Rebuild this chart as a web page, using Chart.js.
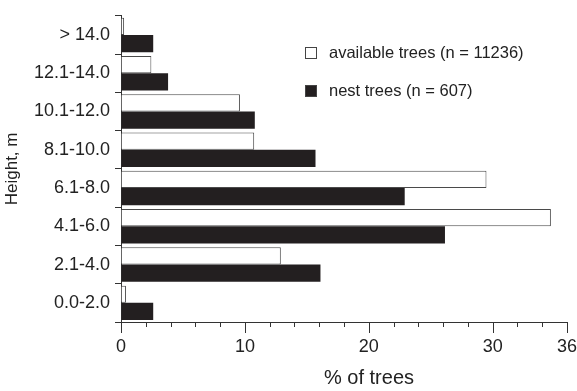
<!DOCTYPE html>
<html>
<head>
<meta charset="utf-8">
<script src="https://cdn.jsdelivr.net/npm/chart.js@4"></script>
<style>
  html, body { margin:0; padding:0; background:#fff; }
  #wrap { width:577px; height:391px; position:relative; }
</style>
</head>
<body>
<div id="wrap"><canvas id="heightChart"></canvas></div>
<script>
/* ── Tree height classes, top to bottom as drawn ── */
const heightClasses  = ["> 14.0", "12.1-14.0", "10.1-12.0", "8.1-10.0", "6.1-8.0", "4.1-6.0", "2.1-4.0", "0.0-2.0"];
const availableTrees = [0.25, 2.45, 9.6, 10.75, 29.5, 34.7, 12.9, 0.4];
const nestTrees      = [2.6, 3.8, 10.8, 15.7, 22.9, 26.15, 16.1, 2.6];
const xMajorTicks    = [0, 10, 20, 30, 36];

const axisColor = "#333";
const fontFam   = "'Liberation Sans', Arial, sans-serif";

// tick marks on the x axis: long at labelled values, short in between
const xTickMarks = {
  id: "xTickMarks",
  afterDraw(chart) {
    const sc = chart.scales.x, ctx = chart.ctx;
    ctx.save();
    ctx.strokeStyle = axisColor;
    ctx.lineWidth = 1;
    sc.ticks.forEach(t => {
      const px = Math.round(sc.getPixelForValue(t.value)) + 0.5;
      const len = xMajorTicks.includes(t.value) ? 11 : 5;
      ctx.beginPath();
      ctx.moveTo(px, sc.top);
      ctx.lineTo(px, sc.top + len);
      ctx.stroke();
    });
    // axis title, set a little right of centre like the original
    ctx.fillStyle = "#222";
    ctx.font = "20px " + fontFam;
    ctx.textAlign = "center";
    ctx.textBaseline = "middle";
    ctx.fillText("% of trees", 369, 378);
    ctx.restore();
  }
};

// legend in the upper right of the plot
const boxLegend = {
  id: "boxLegend",
  afterDraw(chart) {
    const ctx = chart.ctx;
    ctx.save();
    ctx.font = "16.5px " + fontFam;
    ctx.textBaseline = "middle";
    ctx.textAlign = "left";
    chart.data.datasets.forEach((ds, i) => {
      const cy = 53 + i * 38;
      ctx.fillStyle = ds.backgroundColor;
      ctx.fillRect(305, cy - 6, 12, 12);
      ctx.strokeStyle = "#444";
      ctx.lineWidth = 1;
      ctx.strokeRect(305.5, cy - 5.5, 11, 11);
      ctx.fillStyle = "#222";
      ctx.fillText(ds.label, 329, cy);
    });
    ctx.restore();
  }
};

new Chart(document.getElementById("heightChart"), {
  type: "bar",
  data: {
    labels: heightClasses,
    datasets: [
      { label:"available trees (n = 11236)", data:availableTrees, backgroundColor:"#ffffff", borderColor:"#4a4a4a", borderWidth:1 },
      { label:"nest trees (n = 607)",        data:nestTrees,      backgroundColor:"#231f20", borderColor:"#231f20", borderWidth:0 }
    ]
  },
  options: {
    indexAxis: "y",
    responsive: true,
    maintainAspectRatio: false,
    animation: false,
    devicePixelRatio: 1,
    categoryPercentage: 0.9,
    barPercentage: 1.0,
    layout: { padding: { top:10, right:10, left:0, bottom:0 } },
    plugins: { legend:{ display:false }, tooltip:{ enabled:false } },
    scales: {
      x: {
        min: 0, max: 36,
        afterFit: s => { s.height = 69; s.paddingLeft = 0; s.paddingRight = 0; },
        border: { display:true, color:axisColor, width:1 },
        grid: { drawOnChartArea:false, drawTicks:false },
        ticks: {
          stepSize: 2, autoSkip:false, maxRotation:0, padding:14,
          color:"#222", font:{ family:fontFam, size:18 },
          callback: v => xMajorTicks.includes(v) ? String(v) : ""
        }
      },
      y: {
        afterFit: s => { s.width = 121; },
        border: { display:true, color:axisColor, width:1 },
        grid: { drawOnChartArea:false, tickLength:6, color:axisColor, tickColor:axisColor },
        ticks: { padding:5, color:"#222", font:{ family:fontFam, size:18 } },
        title: { display:true, text:"Height, m", color:"#222", font:{ family:fontFam, size:17 }, padding:{ top:2, bottom:0 } }
      }
    }
  },
  plugins: [xTickMarks, boxLegend]
});
</script>
</body>
</html>
